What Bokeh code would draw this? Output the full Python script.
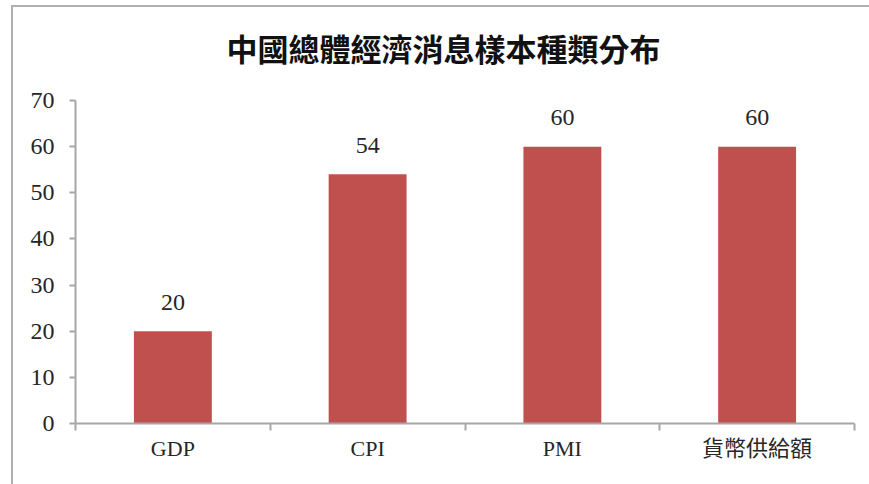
from bokeh.plotting import figure
from bokeh.models import FixedTicker, ColumnDataSource, Label
from bokeh.core.properties import value
from bokeh.embed import file_html
from bokeh.resources import INLINE

categories = ["GDP", "CPI", "PMI", "貨幣供給額"]
counts = [20, 54, 60, 60]
y_ticks = [0, 10, 20, 30, 40, 50, 60, 70]
title_text = "中國總體經濟消息樣本種類分布"

xs = [i + 0.5 for i in range(len(categories))]
src = ColumnDataSource(dict(x=xs, top=counts, label=[str(c) for c in counts], cat=categories))

FONT = "Liberation Serif, Noto Sans CJK TC"
AX = "#a6a6a6"
TXT = "#262626"

# frame extends up to hold the title; the value axis itself stops at 70
AXIS_MAX = 70
FRAME_H, PLOT_H = 413, 323
y_top = AXIS_MAX * FRAME_H / PLOT_H

p = figure(width=858, height=479, output_backend="svg", toolbar_location=None,
           x_range=(0, len(categories)), y_range=(0, y_top),
           min_border_left=62, min_border_right=17, min_border_top=3, min_border_bottom=63,
           margin=(5, 0, 0, 11))
p.styles = {"border-left": "2px solid #b0b0b0", "border-top": "2px solid #b0b0b0"}
p.outline_line_color = None
p.xgrid.grid_line_color = None
p.ygrid.grid_line_color = None

title = Label(x=151, y=376, x_units="screen", y_units="screen", text=title_text,
              text_align="left", text_baseline="middle", text_font_size="31px",
              text_font="Noto Sans CJK TC", text_font_style="bold", text_color="#111111")
p.add_layout(title)

p.vbar(x="x", top="top", width=0.4, source=src, fill_color="#C0504D", line_color=None)
p.text(x="x", y="top", text="label", source=src, text_align="center",
       text_baseline="alphabetic", y_offset=-29, text_font=value("Liberation Serif"),
       text_font_size="24px", text_color=TXT)

p.xaxis.ticker = FixedTicker(ticks=xs, minor_ticks=list(range(len(categories) + 1)))
p.xaxis.major_label_overrides = {x: c for x, c in zip(xs, categories)}
p.xaxis.major_tick_line_color = None
p.xaxis.minor_tick_line_color = AX
p.xaxis.minor_tick_out = 7
p.xaxis.minor_tick_in = 0
p.xaxis.minor_tick_line_width = 2
p.xaxis.axis_line_color = AX
p.xaxis.axis_line_width = 2
p.xaxis.major_label_standoff = 5
p.xaxis.major_label_text_font_size = "22px"

p.yaxis.ticker = FixedTicker(ticks=y_ticks)
p.yaxis.bounds = (0, AXIS_MAX)
p.yaxis.minor_tick_line_color = None
p.yaxis.major_tick_line_color = AX
p.yaxis.major_tick_line_width = 2
p.yaxis.major_tick_out = 6
p.yaxis.major_tick_in = 0
p.yaxis.axis_line_color = AX
p.yaxis.axis_line_width = 2
p.yaxis.major_label_standoff = 15
p.yaxis.major_label_text_font_size = "24px"

for ax in (p.xaxis, p.yaxis):
    ax.major_label_text_font = FONT
    ax.major_label_text_color = TXT

open("out.html", "w").write(file_html(p, INLINE))
